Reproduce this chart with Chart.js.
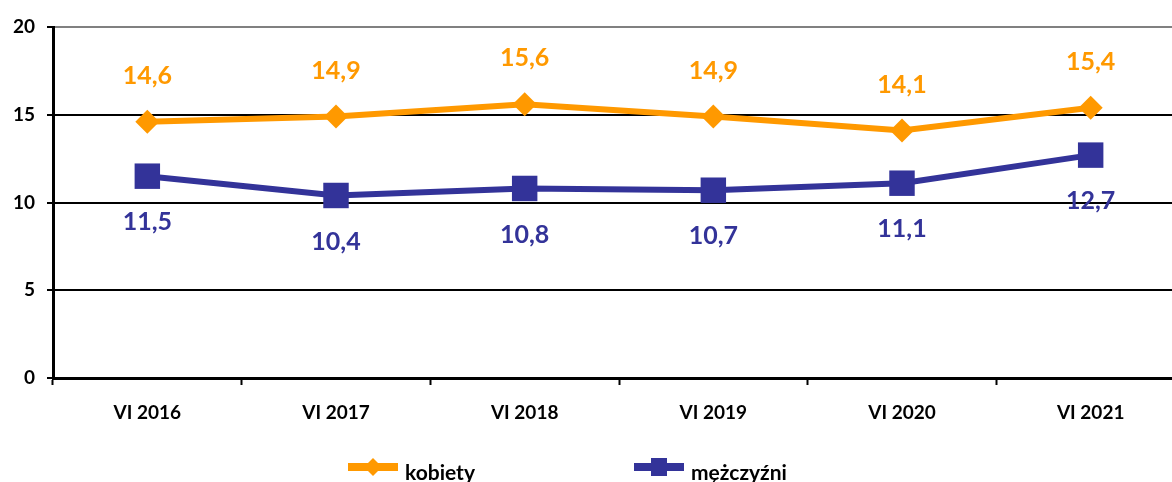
<!DOCTYPE html>
<html>
<head>
<meta charset="utf-8">
<script src="https://cdn.jsdelivr.net/npm/chart.js@4/dist/chart.umd.min.js"></script>
<style>
  html, body { margin: 0; padding: 0; background: #fff; overflow: hidden; }
  canvas { display: block; }
</style>
</head>
<body>
<canvas id="wykres" width="1203" height="482"></canvas>
<script>
// dane
const okresy = ['VI 2016', 'VI 2017', 'VI 2018', 'VI 2019', 'VI 2020', 'VI 2021'];
const kobiety = [14.6, 14.9, 15.6, 14.9, 14.1, 15.4];
const mezczyzni = [11.5, 10.4, 10.8, 10.7, 11.1, 12.7];
const osY = [0, 5, 10, 15, 20];

const POMARANCZ = '#FF9900';
const GRANAT = '#333399';
const FONT = 'Lato, "Open Sans", sans-serif';

function fmt(v) {
    return v.toFixed(1).replace('.', ',');
}

// etykiety wartosci nad / pod punktami
const etykiety = {
    id: 'etykiety',
    afterDatasetsDraw(chart) {
        const ctx = chart.ctx;
        ctx.save();
        ctx.font = 'bold 25px ' + FONT;
        ctx.textAlign = 'center';
        ctx.textBaseline = 'middle';
        chart.data.datasets.forEach((ds, i) => {
            const meta = chart.getDatasetMeta(i);
            const dy = ds.label === 'kobiety' ? -46 : 46;
            ctx.fillStyle = ds.borderColor;
            meta.data.forEach((pt, j) => {
                ctx.fillText(fmt(ds.data[j]), pt.x, pt.y + dy);
            });
        });
        ctx.restore();
    }
};

// legenda: linia z markerem + tekst
const legenda = {
    id: 'legenda',
    afterDraw(chart) {
        const ctx = chart.ctx;
        const pozycje = [348, 634];
        const y = 467;
        ctx.save();
        chart.data.datasets.forEach((ds, i) => {
            const x = pozycje[i];
            ctx.strokeStyle = ds.borderColor;
            ctx.fillStyle = ds.borderColor;
            ctx.lineWidth = 8;
            ctx.beginPath();
            ctx.moveTo(x, y);
            ctx.lineTo(x + 50, y);
            ctx.stroke();
            const cx = x + 25;
            if (ds.pointStyle === 'rectRot') {
                ctx.beginPath();
                ctx.moveTo(cx - 9, y);
                ctx.lineTo(cx, y - 9);
                ctx.lineTo(cx + 9, y);
                ctx.lineTo(cx, y + 9);
                ctx.closePath();
                ctx.fill();
            } else {
                ctx.fillRect(cx - 8, y - 9, 16, 18);
            }
            ctx.fillStyle = '#000';
            ctx.font = 'bold 21px ' + FONT;
            ctx.textAlign = 'left';
            ctx.textBaseline = 'middle';
            ctx.fillText(ds.label, x + 57, y + 6);
        });
        ctx.restore();
    }
};

new Chart(document.getElementById('wykres').getContext('2d'), {
    type: 'line',
    data: {
        labels: okresy,
        datasets: [{
            label: 'kobiety',
            data: kobiety,
            borderColor: POMARANCZ,
            backgroundColor: POMARANCZ,
            borderWidth: 6,
            pointStyle: 'rectRot',
            pointRadius: 12,
            pointBorderWidth: 0,
            tension: 0
        }, {
            label: 'mężczyźni',
            data: mezczyzni,
            borderColor: GRANAT,
            backgroundColor: GRANAT,
            borderWidth: 6,
            pointStyle: 'rect',
            pointRadius: 18,
            pointBorderWidth: 0,
            tension: 0
        }]
    },
    options: {
        responsive: false,
        animation: false,
        devicePixelRatio: 1,
        layout: { padding: { top: 27, right: 1, bottom: 44, left: 0 } },
        plugins: {
            legend: { display: false },
            tooltip: { enabled: false },
            title: { display: false }
        },
        scales: {
            x: {
                offset: true,
                afterFit(scale) { scale.height = 60; },
                grid: {
                    offset: true,
                    drawOnChartArea: false,
                    tickLength: 7,
                    tickWidth: 2,
                    tickColor: '#000'
                },
                border: { color: '#000', width: 3 },
                ticks: {
                    color: '#000',
                    padding: 16,
                    font: { family: FONT, size: 19, weight: 'bold' }
                }
            },
            y: {
                min: osY[0],
                max: osY[osY.length - 1],
                afterFit(scale) { scale.width = 53; },
                afterBuildTicks(scale) {
                    scale.ticks = osY.map(v => ({ value: v }));
                },
                grid: {
                    color: ctx => ctx.tick && ctx.tick.value === 20 ? '#808080' : '#000',
                    lineWidth: 2,
                    tickLength: 6,
                    tickColor: '#000',
                    tickWidth: 2
                },
                border: { color: '#000', width: 3 },
                ticks: {
                    color: '#000',
                    padding: 12,
                    font: { family: FONT, size: 19, weight: 'bold' }
                }
            }
        }
    },
    plugins: [etykiety, legenda]
});
</script>
</body>
</html>
